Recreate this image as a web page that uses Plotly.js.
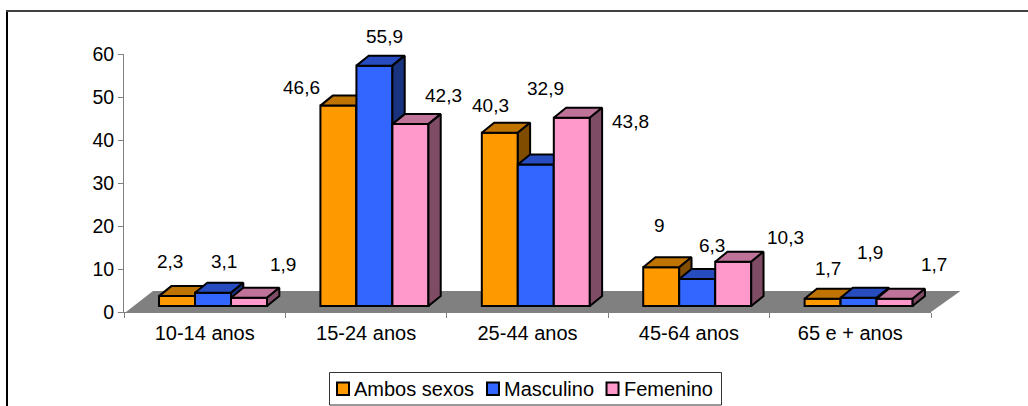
<!DOCTYPE html>
<html><head><meta charset="utf-8">
<script src="https://cdn.plot.ly/plotly-3.0.1.min.js"></script>
<style>html,body{margin:0;padding:0;background:#fff;overflow:hidden}</style>
</head><body><div id="chart" style="width:1028px;height:406px"></div>
<script>
const categories = ["10-14 anos","15-24 anos","25-44 anos","45-64 anos","65 e + anos"];
const seriesNames = ["Ambos sexos","Masculino","Femenino"];
const ambosSexos = [2.3,46.6,40.3,9,1.7];
const masculino  = [3.1,55.9,32.9,6.3,1.9];
const femenino   = [1.9,42.3,43.8,10.3,1.7];
const seriesValues = [ambosSexos,masculino,femenino];

const frontColors = ["#FF9900","#3366FF","#FF99CC"];
const topColors   = ["#BF7300","#264CBF","#BF7399"];
const sideColors  = ["#7F4C00","#19337F","#7F4C66"];

// label nudges relative to each bar's top centre, in pixels [right, up]
const labelNudges = [
  [[-7,34.4],[-37,18.6],[-9,27.7],[-2,42],[5.4,29.7]],
  [[11,31],[9.6,29.6],[10,76.5],[15,33.9],[11.4,45.8]],
  [[34,33.8],[32.6,29],[59,-4.3],[52,24.7],[39.4,33.7]]
];

const W=1028,H=406;
const axL=124,axR=931,axT=54,axB=312;
const pxPerCat=(axR-axL)/5, pxPerVal=(axB-axT)/60;
const barW=36/pxPerCat, barStart=-0.283;
const baseVal=6/pxPerVal;
const depthX=12.3/pxPerCat, depthY=10/pxPerVal;
const font="Liberation Sans, Arial, sans-serif", fs=19, fsAxis=20, fsY=19.5;

const traces=[], annotations=[];
seriesValues.forEach((vals,s)=>{
  const xa=s?"x"+(s+1):"x", ya=s?"y"+(s+1):"y";
  const off=barStart+s*barW;
  traces.push({type:"bar",name:seriesNames[s],x:categories.map((c,i)=>i),y:vals,base:baseVal,
    width:barW,offset:off,xaxis:xa,yaxis:ya,showlegend:false,
    customdata:categories,hovertemplate:"%{customdata}: %{y}<extra>"+seriesNames[s]+"</extra>",
    marker:{color:frontColors[s],line:{color:"#000",width:2}}});
  const tx=[],ty=[],sx=[],sy=[];
  vals.forEach((v,i)=>{
    const l=i+off,r=l+barW,t=baseVal+v,b=baseVal;
    tx.push(l,l+depthX,r+depthX,r,l,null); ty.push(t,t+depthY,t+depthY,t,t,null);
    sx.push(r,r+depthX,r+depthX,r,r,null); sy.push(t,t+depthY,b+depthY,b,t,null);
    const n=labelNudges[s][i];
    annotations.push({xref:"x",yref:"y",x:l+barW/2,y:t,xshift:n[0],yshift:n[1],
      text:String(v).replace(".",","),showarrow:false,xanchor:"center",yanchor:"middle",
      font:{family:font,size:fs,color:"#000"}});
  });
  [[tx,ty,topColors[s]],[sx,sy,sideColors[s]]].forEach(f=>traces.push({type:"scatter",mode:"lines",
    x:f[0],y:f[1],fill:"toself",fillcolor:f[2],line:{color:"#000",width:2,shape:"linear"},
    xaxis:xa,yaxis:ya,showlegend:false,hoverinfo:"skip"}));
});

// hand-laid legend, matching the source's tight swatch spacing
const legendBox={l:329.5,r:721.5,t:372.5,b:405};
const legendItems=[{sw:336,tx:354},{sw:486,tx:504},{sw:605.5,tx:624}];
const px=x=>x/W, py=y=>1-y/H;
const shapes=[
  {type:"path",layer:"below",xref:"paper",yref:"paper",
   path:`M${px(axL+2)},${py(axB)} L${px(axR)},${py(axB)} L${px(axR+29.5)},${py(291)} L${px(axL+29)},${py(291)} Z`,
   fillcolor:"#808080",line:{width:0}},
  {type:"line",xref:"paper",yref:"paper",x0:px(7),x1:px(7),y0:py(10),y1:py(406),line:{color:"#000",width:2}},
  {type:"line",xref:"paper",yref:"paper",x0:px(6),x1:1,y0:py(11),y1:py(11),line:{color:"#404040",width:2}},
  {type:"rect",xref:"paper",yref:"paper",x0:px(legendBox.l),x1:px(legendBox.r),y0:py(legendBox.t),y1:py(legendBox.b),
   fillcolor:"#fff",line:{color:"#333",width:1}}
];
legendItems.forEach((it,s)=>{
  shapes.push({type:"rect",xref:"paper",yref:"paper",x0:px(it.sw+1),x1:px(it.sw+13),y0:py(382.5),y1:py(395),
    fillcolor:frontColors[s],line:{color:"#000",width:2}});
  annotations.push({xref:"paper",yref:"paper",x:px(it.tx),y:py(389),text:seriesNames[s],showarrow:false,
    xanchor:"left",yanchor:"middle",xshift:-2,font:{family:font,size:fsAxis,color:"#000"}});
});

const xRange=[-0.5,4.5], yRange=[0,60];
const xDomain=[axL/W,axR/W], yDomain=[1-axB/H,1-axT/H];
const layout={width:W,height:H,margin:{l:0,r:0,t:0,b:0},paper_bgcolor:"#fff",plot_bgcolor:"rgba(0,0,0,0)",
  showlegend:false,font:{family:font,size:fs,color:"#000"},annotations,shapes,
  xaxis:{domain:xDomain,range:xRange,tickmode:"array",tickvals:categories.map((c,i)=>i),ticktext:categories,
    ticks:"",showgrid:false,zeroline:false,showline:false,tickfont:{family:font,size:fsAxis,color:"#000"},
    anchor:"y",ticklabelstandoff:7},
  yaxis:{domain:yDomain,range:yRange,tickmode:"array",tickvals:[0,10,20,30,40,50,60],ticks:"outside",ticklen:5,
    tickcolor:"#808080",tickwidth:1,showline:true,linecolor:"#808080",linewidth:1,showgrid:false,zeroline:false,
    tickfont:{family:font,size:fsY,color:"#000"},anchor:"x"},
  xaxis2:{domain:xDomain,range:xRange,overlaying:"x",anchor:"y2",side:"bottom",tickmode:"array",
    tickvals:[-0.5,0.5,1.5,2.5,3.5,4.5],ticktext:["","","","","",""],ticks:"outside",ticklen:5,tickcolor:"#808080",
    tickwidth:1,showline:true,linecolor:"#808080",linewidth:1,showgrid:false,zeroline:false},
  yaxis2:{domain:yDomain,range:yRange,overlaying:"y",anchor:"x2",visible:false},
  xaxis3:{domain:xDomain,range:xRange,overlaying:"x",anchor:"y3",visible:false},
  yaxis3:{domain:yDomain,range:yRange,overlaying:"y",anchor:"x3",visible:false}
};
Plotly.newPlot("chart",traces,layout,{displayModeBar:false,staticPlot:true});
</script></body></html>
